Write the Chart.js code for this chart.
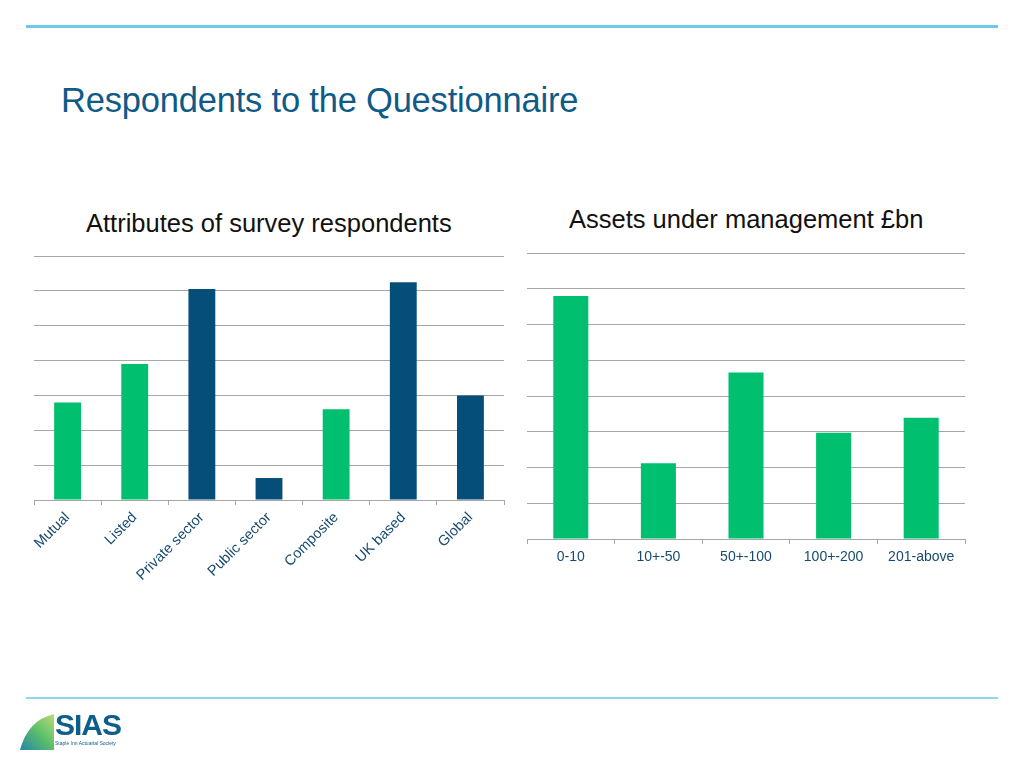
<!DOCTYPE html>
<html>
<head>
<meta charset="utf-8">
<script src="https://cdn.jsdelivr.net/npm/chart.js@4/dist/chart.umd.min.js"></script>
<style>
  html, body { margin: 0; padding: 0; background: #fff; }
  body { width: 1024px; height: 768px; position: relative; overflow: hidden; font-family: "Liberation Sans", Arial, sans-serif; }
  .rule { position: absolute; left: 26px; width: 972px; background: #6ccbec; }
  #topRule { top: 25px; height: 3px; }
  #bottomRule { top: 697px; height: 2px; background: #8fd6ef; }
  #pageTitle { position: absolute; left: 61px; top: 81px; font-size: 34.5px; color: #0f5a86; letter-spacing: -0.2px; white-space: nowrap; }
  .chartTitle { position: absolute; font-size: 25.5px; color: #111; white-space: nowrap; }
  #leftTitle { left: 86px; top: 209px; }
  #rightTitle { left: 569px; top: 205px; }
  .box { position: absolute; }
  #leftBox { left: 24px; top: 246px; width: 490px; height: 350px; }
  #rightBox { left: 517px; top: 243px; width: 458px; height: 336px; }
  #logo { position: absolute; left: 18px; top: 712px; width: 110px; height: 40px; }
  #logoText { position: absolute; left: 55px; top: 708px; font-size: 30px; font-weight: bold; color: #0d5e8a; letter-spacing: -1px; }
  #logoSub { position: absolute; left: 55px; top: 740px; font-size: 5px; color: #0d5e8a; }
</style>
</head>
<body>
<div id="topRule" class="rule"></div>
<div id="pageTitle">Respondents to the Questionnaire</div>
<div id="leftTitle" class="chartTitle">Attributes of survey respondents</div>
<div id="rightTitle" class="chartTitle">Assets under management £bn</div>
<div id="leftBox" class="box"><canvas id="attrChart"></canvas></div>
<div id="rightBox" class="box"><canvas id="assetChart"></canvas></div>
<div id="bottomRule" class="rule"></div>
<canvas id="logo" width="110" height="40"></canvas>
<div id="logoText">SIAS</div>
<div id="logoSub">Staple Inn Actuarial Society</div>
<script>
  const GREEN = '#00bf6f';
  const BLUE = '#044e79';
  const LABEL = '#174a70';
  const GRID = '#a6a6a6';

  // Attributes of survey respondents
  const attrLabels = ['Mutual', 'Listed', 'Private sector', 'Public sector', 'Composite', 'UK based', 'Global'];
  const attrValues = [2.8, 3.9, 6.05, 0.63, 2.6, 6.25, 3.0];
  const attrColors = [GREEN, GREEN, BLUE, BLUE, GREEN, BLUE, BLUE];

  // Assets under management £bn
  const assetLabels = ['0-10', '10+-50', '50+-100', '100+-200', '201-above'];
  const assetValues = [6.8, 2.12, 4.66, 2.97, 3.39];

  Chart.defaults.font.family = '"Liberation Sans", Arial, sans-serif';
  Chart.defaults.animation = false;

  function makeChart(id, labels, values, colors, yMax, xHeight, rotate, fontSize, pad) {
    return new Chart(document.getElementById(id), {
      type: 'bar',
      data: {
        labels: labels,
        datasets: [{
          data: values,
          backgroundColor: colors,
          barPercentage: 0.4,
          categoryPercentage: 1
        }]
      },
      options: {
        responsive: true,
        maintainAspectRatio: false,
        layout: { padding: { left: 10, right: 10, top: 10, bottom: 0 } },
        plugins: { legend: { display: false }, tooltip: { enabled: false } },
        scales: {
          x: {
            grid: { offset: true, drawOnChartArea: false, drawTicks: true, tickLength: 5, color: GRID },
            border: { color: GRID, width: 1 },
            ticks: {
              color: LABEL,
              font: { size: fontSize },
              minRotation: rotate,
              maxRotation: rotate,
              padding: pad,
              autoSkip: false
            },
            afterFit: s => { s.height = xHeight; }
          },
          y: {
            min: 0,
            max: yMax,
            ticks: { display: false, stepSize: 1 },
            grid: { color: GRID, drawTicks: false, lineWidth: 1 },
            border: { display: false },
            afterFit: s => { s.width = 0; }
          }
        }
      }
    });
  }

  makeChart('attrChart', attrLabels, attrValues, attrColors, 7, 96, 45, 14.5, 4);
  makeChart('assetChart', assetLabels, assetValues, GREEN, 8, 40, 0, 14, 5);

  // small logo swoosh
  const lg = document.getElementById('logo').getContext('2d');
  const grad = lg.createLinearGradient(0, 40, 40, 0);
  grad.addColorStop(0, '#1f7fb0');
  grad.addColorStop(0.5, '#5cbf6a');
  grad.addColorStop(1, '#c9e27a');
  lg.fillStyle = grad;
  lg.beginPath();
  lg.moveTo(2, 38);
  lg.quadraticCurveTo(10, 8, 36, 2);
  lg.lineTo(36, 38);
  lg.closePath();
  lg.fill();
</script>
</body>
</html>
